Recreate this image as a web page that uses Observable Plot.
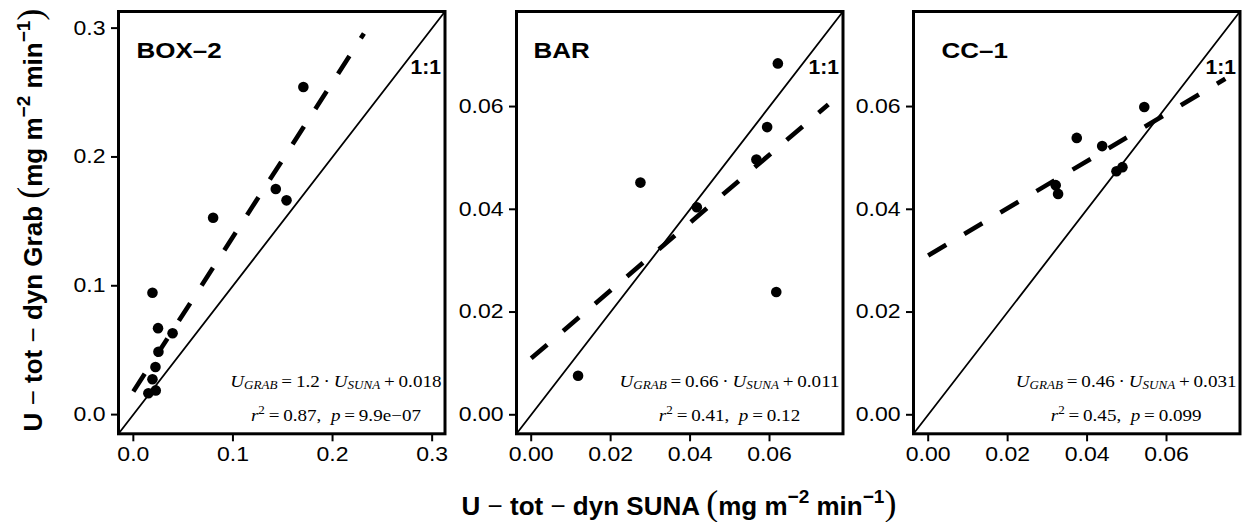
<!DOCTYPE html>
<html><head><meta charset="utf-8">
<script src="https://cdn.jsdelivr.net/npm/d3@7"></script>
<script src="https://cdn.jsdelivr.net/npm/@observablehq/plot@0.6"></script>
<style>
html,body{margin:0;padding:0;background:#fff;}
#chart{position:relative;width:1243px;height:522px;overflow:hidden;background:#fff;}
#chart svg{position:absolute;top:0;}
</style></head><body><div id="chart"></div>
<script>
// ---------- data ----------
const panelNames = ["BOX\u20132", "BAR", "CC\u20131"];

const box2X = [0.0151, 0.0225, 0.0192, 0.0222, 0.0252, 0.0248, 0.0394, 0.0192, 0.0801, 0.1430, 0.1538, 0.1707];
const box2Y = [0.0166, 0.0188, 0.0275, 0.0370, 0.0488, 0.0671, 0.0632, 0.0946, 0.1528, 0.1751, 0.1663, 0.2543];

const barX = [0.0118, 0.0275, 0.0417, 0.0567, 0.0594, 0.0621, 0.0617];
const barY = [0.0076, 0.0452, 0.0404, 0.0497, 0.0560, 0.0684, 0.0239];

const ccX = [0.0321, 0.0327, 0.0374, 0.0438, 0.0474, 0.0489, 0.0544];
const ccY = [0.0447, 0.0430, 0.0539, 0.0523, 0.0474, 0.0482, 0.0599];

// regression (dashed) line end points
const fitX = [[0, 0.2315], [0, 0.0748], [0, 0.0748]];
const fitY = [[0.018, 0.2958], [0.011, 0.0604], [0.031, 0.0654]];

const axisLimits = [[-0.0149, 0.3129], [-0.0037, 0.0785], [-0.0037, 0.0785]];
const tickValues = [[0, 0.1, 0.2, 0.3], [0, 0.02, 0.04, 0.06], [0, 0.02, 0.04, 0.06]];
const tickFormats = [".1f", ".2f", ".2f"];

const eqSlope = ["1.2", "0.66", "0.46"];
const eqIntercept = ["0.018", "0.011", "0.031"];
const eqR2 = ["0.87", "0.41", "0.45"];
const eqP = ["9.9e\u221207", "0.12", "0.099"];

const xTitle = "SUNA";
const yTitle = "Grab";

// ---------- layout ----------
const SANS = "'Liberation Sans', Arial, Helvetica, sans-serif";
const SERIF = "'Liberation Serif', 'Times New Roman', Times, serif";
const frameLeft = [117.5, 516.2, 912.5];
const frameW = 326.5;
const ML = 72, MR = 6, MT = 11, MB = 522 - 433.3;
const titleDx = [18, 17, 28];

const seriesX = [box2X, barX, ccX];
const seriesY = [box2Y, barY, ccY];

function eqMark(i) {
  return (index, scales, values, dims) => {
    const xr = dims.width - dims.marginRight - 3;
    const yb = dims.height - dims.marginBottom;
    const g = d3.create("svg:g").attr("class", "eq")
      .attr("transform", `translate(${xr},0) scale(1.09,1)`)
      .attr("font-family", SERIF).attr("font-size", 17.5).attr("fill", "black");
    const sub = 12, sh = 2.5;
    const t1 = g.append("text").attr("class", "l1").attr("x", 0).attr("y", yb - 46.5).attr("text-anchor", "end");
    t1.append("tspan").attr("font-style", "italic").text("U");
    t1.append("tspan").attr("font-style", "italic").attr("font-size", sub).attr("dy", sh).text("GRAB");
    t1.append("tspan").attr("dy", -sh).text("\u2009=\u2009" + eqSlope[i] + "\u2009\u00b7\u2009");
    t1.append("tspan").attr("font-style", "italic").text("U");
    t1.append("tspan").attr("font-style", "italic").attr("font-size", sub).attr("dy", sh).text("SUNA");
    t1.append("tspan").attr("dy", -sh).text("\u2009+\u2009" + eqIntercept[i]);
    const t2 = g.append("text").attr("class", "l2").attr("x", -96).attr("y", yb - 12.5).attr("text-anchor", "middle");
    t2.append("tspan").attr("font-style", "italic").text("r");
    t2.append("tspan").attr("font-size", sub).attr("dy", -7).text("2");
    t2.append("tspan").attr("dy", 7).text("\u2009=\u2009" + eqR2[i] + ",\u2002");
    t2.append("tspan").attr("font-style", "italic").text("p");
    t2.append("tspan").text("\u2009=\u2009" + eqP[i]);
    return g.node();
  };
}

const chart = document.getElementById("chart");

for (let i = 0; i < 3; i++) {
  const pts = seriesX[i].map((x, k) => ({x, y: seriesY[i][k]}));
  const fit = fitX[i].map((x, k) => ({x, y: fitY[i][k]}));
  const lim = axisLimits[i];
  const oneToOne = lim.map(v => ({x: v, y: v}));
  const width = ML + frameW + MR;
  const svg = Plot.plot({
    width, height: 522,
    marginLeft: ML, marginRight: MR, marginTop: MT, marginBottom: MB,
    style: {background: "transparent", overflow: "visible", fontFamily: SANS, color: "black"},
    x: {domain: lim, label: null},
    y: {domain: lim, label: null},
    marks: [
      Plot.line(oneToOne, {x: "x", y: "y", stroke: "black", strokeWidth: 1.8}),
      Plot.line(fit, {x: "x", y: "y", stroke: "black", strokeWidth: 4.6, strokeDasharray: "21,21", strokeLinecap: "butt"}),
      Plot.dot(pts, {x: "x", y: "y", r: 5.3, fill: "black", stroke: "none"}),
      Plot.text([panelNames[i]], {text: d => d, frameAnchor: "top-left", lineAnchor: "top", dx: titleDx[i], dy: 31, fontSize: 22, fontWeight: "bold", fill: "black"}),
      Plot.text(["1:1"], {text: d => d, frameAnchor: "top-right", lineAnchor: "top", textAnchor: "end", dx: -4, dy: 49, fontSize: 19.5, fontWeight: "bold", fill: "black"}),
      eqMark(i),
      Plot.frame({stroke: "black", strokeWidth: 3}),
      Plot.axisX({ticks: tickValues[i], tickFormat: d3.format(tickFormats[i]), tickSize: 8, tickPadding: 5, fontSize: 20, strokeWidth: 2, label: null}),
      Plot.axisY({ticks: tickValues[i], tickFormat: d3.format(tickFormats[i]), tickSize: 7, tickPadding: 6, fontSize: 20, strokeWidth: 2, label: null})
    ]
  });
  svg.style.left = (frameLeft[i] - ML) + "px";
  svg.style.position = "absolute";
  svg.style.top = "0px";
  chart.appendChild(svg);
}

// center the second equation line under the first
chart.querySelectorAll("g.eq").forEach(g => {
  const l1 = g.querySelector("text.l1");
  const l2 = g.querySelector("text.l2");
  try {
    const b = l1.getBBox();
    if (b.width > 0) l2.setAttribute("x", b.x + b.width / 2);
  } catch (e) {}
});

// the reference's sans-serif glyphs are wider than Liberation Sans: widen them
function widenText(t, f) {
  try {
    const L = t.getComputedTextLength();
    if (L > 0) {
      t.setAttribute("textLength", L * f);
      t.setAttribute("lengthAdjust", "spacingAndGlyphs");
    }
  } catch (e) {}
}
chart.querySelectorAll('g[aria-label="x-axis tick label"] text, g[aria-label="y-axis tick label"] text')
  .forEach(t => widenText(t, 1.15));
chart.querySelectorAll("svg text").forEach(t => {
  if (t.closest("g.eq")) return;
  const s = t.textContent;
  if (panelNames.includes(s)) widenText(t, 1.18);
  else if (s === "1:1") widenText(t, 1.08);
});

// ---------- shared axis titles ----------
const lab = d3.create("svg").attr("width", 1243).attr("height", 522)
  .style("position", "absolute").style("left", "0px").style("top", "0px")
  .style("background", "transparent").style("overflow", "visible");

function axisTitle(t, word) {
  t.attr("font-family", SANS).attr("font-size", 26).attr("font-weight", "bold").attr("fill", "black").attr("text-anchor", "middle");
  t.append("tspan").text("U");
  t.append("tspan").attr("font-weight", "normal").text(" \u2212 ");
  t.append("tspan").text("tot");
  t.append("tspan").attr("font-weight", "normal").text(" \u2212 ");
  t.append("tspan").text("dyn " + word + " ");
  t.append("tspan").attr("font-family", SERIF).attr("font-weight", "normal").attr("font-size", 36).text("(");
  t.append("tspan").text("mg m");
  t.append("tspan").attr("font-size", 19).attr("dy", -12).text("\u22122");
  t.append("tspan").attr("dy", 12).text(" min");
  t.append("tspan").attr("font-size", 19).attr("dy", -12).text("\u22121");
  t.append("tspan").attr("dy", 12).attr("font-family", SERIF).attr("font-weight", "normal").attr("font-size", 36).text(")");
}
axisTitle(lab.append("text").attr("x", 679).attr("y", 515), xTitle);
axisTitle(lab.append("text").attr("transform", "translate(42,220) rotate(-90)"), yTitle);
chart.appendChild(lab.node());
</script></body></html>
